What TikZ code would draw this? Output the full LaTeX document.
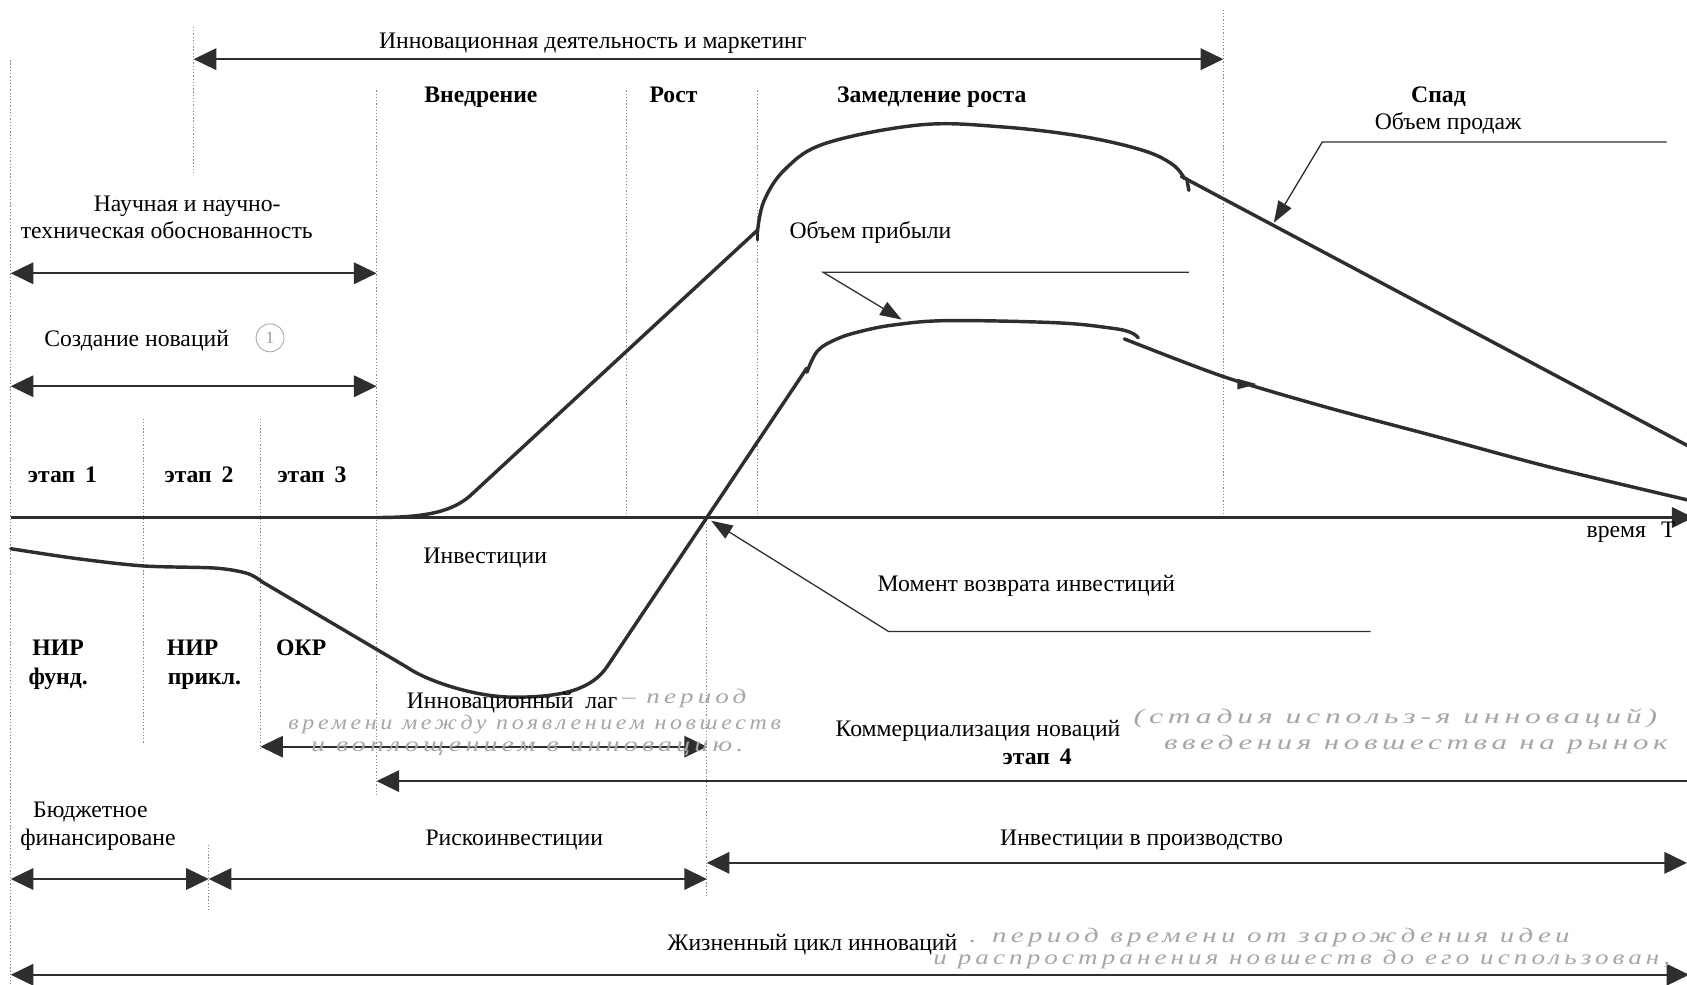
\documentclass[tikz,border=0pt]{standalone}
\usepackage{fontspec}
\setmainfont{Liberation Serif}
\newfontfamily\handfont[LetterSpace=15]{Liberation Serif}
\usetikzlibrary{arrows.meta}
\definecolor{ink}{HTML}{2E2E2E}
\newcommand{\hw}[2]{\scalebox{#1}[0.8]{#2}}
\begin{document}
\begin{tikzpicture}[x=0.5pt,y=-0.5pt,
  lab/.style={inner sep=0pt, text=black, text height=8pt, text depth=2.5pt, font=\fontsize{11}{13}\selectfont},
  blab/.style={lab, font=\fontsize{11}{13}\selectfont\bfseries},
  hand/.style={inner sep=0pt, text=black!35, font=\handfont\itshape\fontsize{12}{14}\selectfont},
  guide/.style={draw=black!45, line width=0.4pt, dash pattern=on 0.6pt off 0.9pt},
  span/.style={draw=ink, line width=0.8pt, {Triangle[length=10.5pt,width=10pt]}-{Triangle[length=10.5pt,width=10pt]}},
  lspan/.style={draw=ink, line width=0.8pt, {Triangle[length=10.5pt,width=10pt]}-},
  axisline/.style={draw=ink, line width=1pt, -{Triangle[length=10pt,width=9.5pt]}},
  curve/.style={draw=ink, line width=1.6pt, line cap=round, line join=round},
  pointer/.style={draw=ink, line width=0.6pt, -{Triangle[length=10pt,width=7pt]}}
]
\useasboundingbox (0,0) rectangle (1568,915);

% ---------- dotted guides ----------
\draw[guide] (10,56) -- (10,915);
\draw[guide] (180,25) -- (180,163);
\draw[guide] (350,84) -- (350,741);
\draw[guide] (582,84) -- (582,480);
\draw[guide] (704,84) -- (704,480);
\draw[guide] (1137,9) -- (1137,481);
\draw[guide] (133,389) -- (133,692);
\draw[guide] (242,389) -- (242,697);
\draw[guide] (194,785) -- (194,847);
\draw[guide] (657,481) -- (657,833);

% ---------- coordinates ----------
\coordinate (axL) at (10,481);   \coordinate (axR) at (1574,481);
\coordinate (topL) at (180,55);  \coordinate (topR) at (1137,55);
\coordinate (nauL) at (10,254);  \coordinate (nauR) at (350,254);
\coordinate (sozL) at (10,359);  \coordinate (sozR) at (350,359);
\coordinate (lagL) at (242,694); \coordinate (lagR) at (657,694);
\coordinate (comL) at (350,726); \coordinate (comR) at (1568,726);
\coordinate (budL) at (10,817);  \coordinate (budR) at (194,817);
\coordinate (riskL) at (194,817);\coordinate (riskR) at (657,817);
\coordinate (proL) at (657,802); \coordinate (proR) at (1568,802);
\coordinate (lifeL) at (10,906); \coordinate (lifeR) at (1570,906);
\coordinate (salesEnd) at (1549,132); \coordinate (salesBend) at (1229,132); \coordinate (salesTip) at (1184,207);
\coordinate (profEnd) at (1105,253);  \coordinate (profBend) at (765,253);   \coordinate (profTip) at (838,297);
\coordinate (momEnd) at (1274,587);   \coordinate (momBend) at (826,587);    \coordinate (momTip) at (661,484);

% ---------- axis and spans ----------
\draw[axisline] (axL) -- (axR);
\draw[span] (topL) -- (topR);
\draw[span] (nauL) -- (nauR);
\draw[span] (sozL) -- (sozR);
\draw[span] (lagL) -- (lagR);
\draw[lspan] (comL) -- (comR);
\draw[span] (budL) -- (budR);
\draw[span] (riskL) -- (riskR);
\draw[span] (proL) -- (proR);
\draw[span] (lifeL) -- (lifeR);

% ---------- curves ----------
% sales volume
\draw[curve] (350,481) .. controls (395,481) and (422,476) .. (440,458) -- (704,214);
\draw[curve] (704,212) -- (704,223);
\draw[curve] plot[smooth, tension=0.6] coordinates {(704,216) (710,187) (730,157) (768,133) (856,116) (932,118) (1007,127) (1063,140) (1090,153) (1101,166)};
\draw[curve] (1103,166) -- (1105,177);
\draw[curve] (1098,164) -- (1570,415);
% investments / profit
\draw[curve] plot[smooth, tension=0.5] coordinates {(10,510) (70,519) (133,526) (200,528) (230,533) (244,541)}
   -- (378,620) .. controls (395,632) and (440,648) .. (478,648)
   .. controls (525,648) and (550,640) .. (564,620) -- (750,342);
\draw[curve] plot[smooth, tension=0.6] coordinates {(750,346) (760,326) (778,315) (800,308) (831,302) (881,298) (982,300) (1033,305) (1051,309) (1058,314)};
\draw[curve] plot[smooth, tension=0.5] coordinates {(1045,315) (1137,350) (1231,378) (1336,406) (1440,434) (1570,465)};
\fill[ink] (1150,352) -- (1168,357) -- (1150,362) -- cycle;

% ---------- pointers ----------
\draw[pointer] (salesEnd) -- (salesBend) -- (salesTip);
\draw[pointer] (profEnd) -- (profBend) -- (profTip);
\draw[pointer] (momEnd) -- (momBend) -- (momTip);

% ---------- labels ----------
\node[lab] (tInnov) at (551,40) {Инновационная деятельность и маркетинг};
\node[blab] (tVnedr) at (447,90) {Внедрение};
\node[blab] (tRost) at (626,90) {Рост};
\node[blab] (tZam) at (866,90) {Замедление роста};
\node[blab] (tSpad) at (1337,90) {Спад};
\node[lab] (tSales) at (1346,115) {Объем продаж};
\node[lab] (tProfit) at (809,216) {Объем прибыли};
\node[lab] (tNauch1) at (174,191) {Научная и научно-};
\node[lab] (tNauch2) at (155,216) {техническая обоснованность};
\node[lab] (tSozd) at (127,317) {Создание новаций};
\node[draw=black!35, line width=0.4pt, circle, minimum size=13pt, inner sep=0pt, text=black!40] (tCirc) at (251,314) {\fontsize{8}{8}\selectfont 1};
\node[blab] (tEt1) at (58,443) {этап~\,1};
\node[blab] (tEt2) at (185,443) {этап~\,2};
\node[blab] (tEt3) at (290,443) {этап~\,3};
\node[lab] (tInv) at (451,518) {Инвестиции};
\node[lab] (tTime) at (1516,494) {время\hspace{7pt}T};
\node[lab] (tMom) at (954,544) {Момент возврата инвестиций};
\node[blab] (tNir1) at (54,604) {НИР};
\node[blab] (tFund) at (54,631) {фунд.};
\node[blab] (tNir2) at (179,604) {НИР};
\node[blab] (tPrikl) at (190,631) {прикл.};
\node[blab] (tOkr) at (280,604) {ОКР};
\node[lab] (tLag) at (476,653) {Инновационный\ \ лаг};
\node[lab] (tKom) at (909,679) {Коммерциализация новаций};
\node[blab] (tEt4) at (964,705) {этап~\,4};
\node[lab] (tBud1) at (84,754) {Бюджетное};
\node[lab] (tBud2) at (91,780) {финансироване};
\node[lab] (tRisk) at (478,780) {Рискоинвестиции};
\node[lab] (tProd) at (1061,780) {Инвестиции в производство};
\node[lab] (tLife) at (755,878) {Жизненный цикл инноваций};

% ---------- pencil notes ----------
\node[hand] (h1) at (636,649) {\hw{1.05}{– период}};
\node[hand] (h2) at (497,673) {\hw{0.93}{времени между появлением новшеств}};
\node[hand] (h3) at (490,696) {\hw{1.08}{и воплощением в инновацию.}};
\node[hand] (h4) at (1297,668) {\hw{1.23}{(стадия использ-я инноваций)}};
\node[hand] (h5) at (1316,692) {\hw{1.2}{введения новшества на рынок}};
\node[hand] (h6) at (1180,871) {\hw{1.12}{. период времени от зарождения идеи}};
\node[hand] (h7) at (1210,892) {\hw{1.05}{и распространения новшеств до его использован,}};
\end{tikzpicture}
\end{document}
